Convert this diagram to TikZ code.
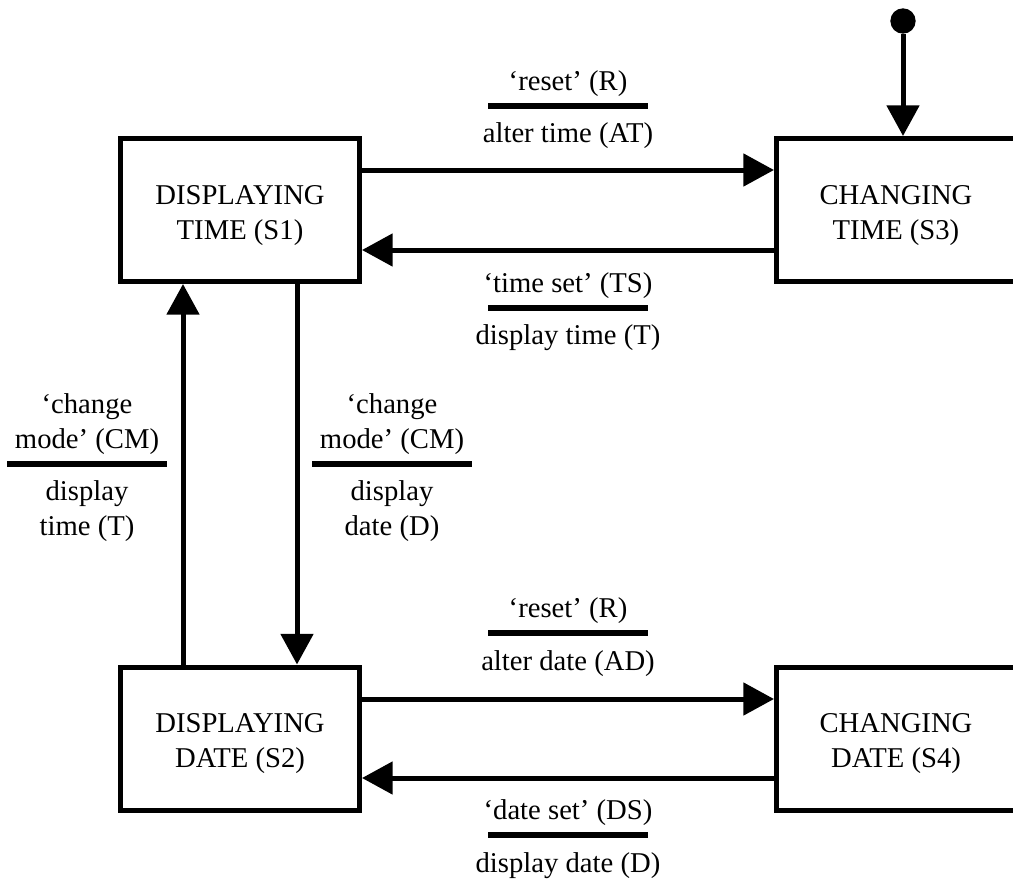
\documentclass[tikz,border=0pt]{standalone}
\usepackage{fontspec}
\setmainfont{Liberation Serif}
\usetikzlibrary{arrows.meta,positioning}
\newcommand{\topstrut}{\rule{0pt}{22pt}}

\begin{document}
\begin{tikzpicture}[x=0.75pt,y=-0.75pt,
	state/.style={draw,line width=3.75pt,minimum width=179.25pt,minimum height=107.25pt,
		inner sep=0pt,align=center,font=\fontsize{21.5}{26.25}\selectfont},
	trans/.style={line width=3.75pt,-{Triangle[length=23pt,width=24pt]}},
	bar/.style={line width=4.5pt},
	lbl/.style={inner sep=0pt,align=center,font=\fontsize{21.5}{26.25}\selectfont}]
	\useasboundingbox (0,0) rectangle (1013,882);
	% states
	\node[state] (S1) at (240,210) {\topstrut DISPLAYING\\TIME (S1)};
	\node[state] (S3) at (896,210) {\topstrut CHANGING\\TIME (S3)};
	\node[state] (S2) at (240,738.5) {\topstrut DISPLAYING\\DATE (S2)};
	\node[state] (S4) at (896,738.5) {\topstrut CHANGING\\DATE (S4)};
	% initial state
	\node[circle,fill,inner sep=0pt,minimum size=19pt] (init) at (903,21) {};
	\draw[trans] (init) -- (init |- S3.north);
	% time <-> changing time
	\draw[trans] (S1.east |- 0,170) -- (S3.west |- 0,170);
	\draw[trans] (S3.west |- 0,250) -- (S1.east |- 0,250);
	% date <-> changing date
	\draw[trans] (S2.east |- 0,699) -- (S4.west |- 0,699);
	\draw[trans] (S4.west |- 0,778) -- (S2.east |- 0,778);
	% change mode
	\draw[trans] (S2.north -| 183,0) -- (S1.south -| 183,0);
	\draw[trans] (S1.south -| 297,0) -- (S2.north -| 297,0);
	% guards
	\coordinate (b1) at (568,105.5);
	\draw[bar] ([xshift=-60pt]b1) -- ([xshift=60pt]b1);
	\node[lbl,above=6.5pt of b1] (r1) {‘reset’ (R)};
	\node[lbl,below=13pt of b1] (at1) {alter time (AT)};
	\coordinate (b2) at (568,307.5);
	\draw[bar] ([xshift=-60pt]b2) -- ([xshift=60pt]b2);
	\node[lbl,above=6.5pt of b2] (ts2) {‘time set’ (TS)};
	\node[lbl,below=13pt of b2] (t2) {display time (T)};
	\coordinate (b3) at (87,463.5);
	\draw[bar] ([xshift=-60pt]b3) -- ([xshift=60pt]b3);
	\node[lbl,above=6.5pt of b3] (cm3) {‘change\\mode’ (CM)};
	\node[lbl,below=13pt of b3] (t3) {display\\time (T)};
	\coordinate (b4) at (392,463.5);
	\draw[bar] ([xshift=-60pt]b4) -- ([xshift=60pt]b4);
	\node[lbl,above=6.5pt of b4] (cm4) {‘change\\mode’ (CM)};
	\node[lbl,below=13pt of b4] (d4) {display\\date (D)};
	\coordinate (b5) at (568,633);
	\draw[bar] ([xshift=-60pt]b5) -- ([xshift=60pt]b5);
	\node[lbl,above=6.5pt of b5] (r5) {‘reset’ (R)};
	\node[lbl,below=13pt of b5] (ad5) {alter date (AD)};
	\coordinate (b6) at (568,835);
	\draw[bar] ([xshift=-60pt]b6) -- ([xshift=60pt]b6);
	\node[lbl,above=6.5pt of b6] (ds6) {‘date set’ (DS)};
	\node[lbl,below=13pt of b6] (d6) {display date (D)};
\end{tikzpicture}
\end{document}
